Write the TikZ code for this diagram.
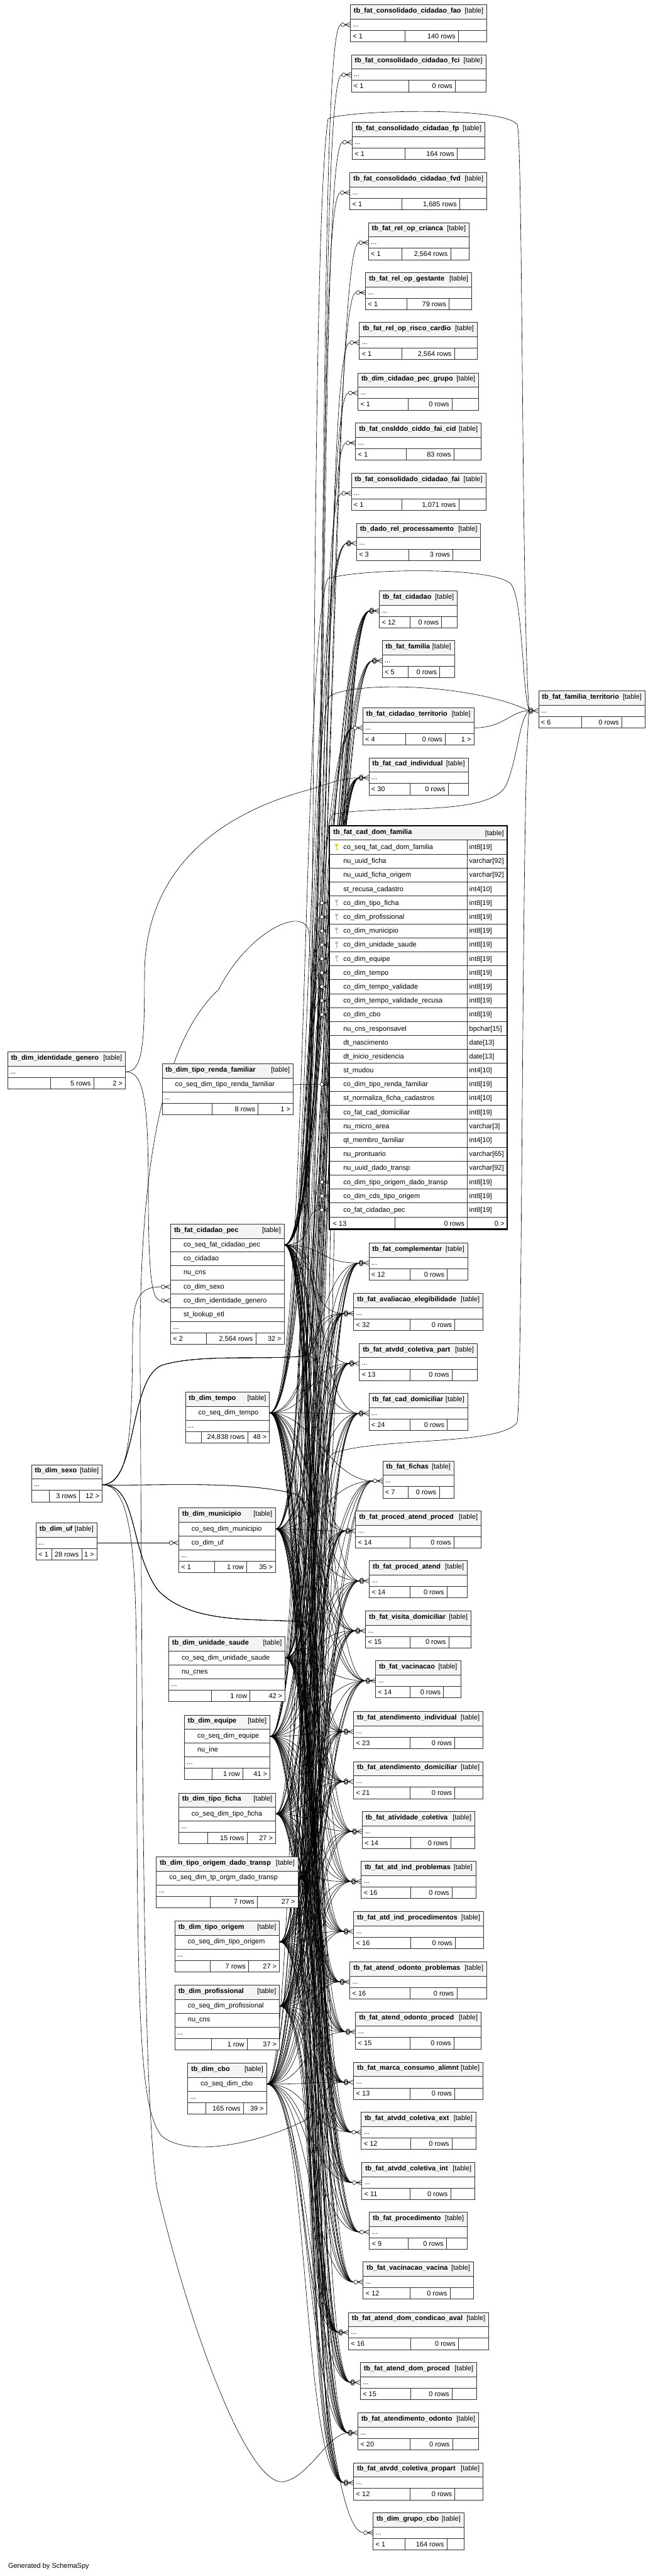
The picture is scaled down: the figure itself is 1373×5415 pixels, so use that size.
\documentclass[tikz,border=0pt]{standalone}
\usepackage{fontspec}
\setmainfont{Liberation Sans}
\definecolor{hdrbg}{HTML}{F4F4F4}
\definecolor{bd}{HTML}{303030}
\definecolor{pkc}{HTML}{D8D800}
\definecolor{fkc}{HTML}{BBBBBB}
\tikzset{
 tb/.style={draw=bd,line width=1.1pt},
 rel/.style={draw=black,line width=0.8pt},
 txt/.style={inner sep=0pt,font=\fontsize{14.5}{17}\selectfont},
 btxt/.style={inner sep=0pt,font=\fontsize{14.5}{17}\selectfont\bfseries},
}
\newcommand\sshead[5]{%
  \draw[tb,fill=hdrbg] (#3,#5) rectangle (#4,{#5+30});
  \node[btxt,anchor=base west] (#1-n) at ({#3+7},{#5+17}) {#2};
  \node[txt,anchor=base east] (#1-t) at ({#4-7},{#5+17}) {[table]};}
\newcommand\ssrow[6]{%
  \draw[tb,fill=white] (#2,#4) rectangle (#3,#5);
  \node[txt,anchor=base west] (#1) at ({#2+27},{#4+18}) {#6};}
\newcommand\ssdots[5]{%
  \draw[tb,fill=white] (#2,#4) rectangle (#3,#5);
  \node[txt,anchor=base west] (#1) at ({#2+5},{#4+16}) {...};}
\newcommand\ssfoot[9]{%
  \draw[tb,fill=white] (#2,#4) rectangle (#3,{#4+24});
  \draw[tb] (#5,#4) -- (#5,{#4+24}) (#6,#4) -- (#6,{#4+24});
  \node[txt,anchor=base west] (#1-l) at ({#2+5},{#4+17}) {#7};
  \node[txt,anchor=base east] (#1-m) at ({#6-6},{#4+17}) {#8};
  \node[txt,anchor=base east] (#1-r) at ({#3-6},{#4+17}) {#9};}
\newcommand\crowmark[2]{%
  \draw[rel] ({#1-12},{#2}) -- ({#1},{#2-5}) ({#1-12},{#2}) -- ({#1},{#2}) ({#1-12},{#2}) -- ({#1},{#2+5});
  \draw[rel,fill=white] ({#1-16},{#2}) circle[radius=4pt];}
\newcommand\crowmarkm[2]{%
  \draw[rel] ({#1-12},{#2}) -- ({#1},{#2-5}) ({#1-12},{#2}) -- ({#1},{#2}) ({#1-12},{#2}) -- ({#1},{#2+5});
  \draw[rel,fill=white] ({#1-16},{#2-2}) circle[radius=4pt];
  \draw[rel] ({#1-17},{#2}) circle[radius=4pt] ({#1-16},{#2+2}) circle[radius=4pt];}
\newcommand\keyicon[3]{%
  \fill[#3] ({#1},{#2-4}) circle[radius=3.2pt];
  \fill[#3] ({#1-1.2},{#2-2}) rectangle ({#1+1.2},{#2+7});
  \fill[#3] ({#1},{#2+3.5}) rectangle ({#1+3},{#2+5});}
\def\rtlist{fao/tb\_fat\_consolidado\_cidadao\_fao/737/1024/10/852/964/{< 1}/{140 rows}/1,
fci/tb\_fat\_consolidado\_cidadao\_fci/739/1022/115/860/958/{< 1}/{0 rows}/1,
fp/tb\_fat\_consolidado\_cidadao\_fp/741/1020/257/852/962/{< 1}/{164 rows}/1,
fvd/tb\_fat\_consolidado\_cidadao\_fvd/736/1024/363/845/967/{< 1}/{1,685 rows}/1,
cri/tb\_fat\_rel\_op\_crianca/775/987/468/845/948/{< 1}/{2,564 rows}/1,
ges/tb\_fat\_rel\_op\_gestante/769/992/573/856/945/{< 1}/{79 rows}/1,
ris/tb\_fat\_rel\_op\_risco\_cardio/756/1004/678/845/956/{< 1}/{2,564 rows}/1,
pgr/tb\_dim\_cidadao\_pec\_grupo/753/1007/784/859/951/{< 1}/{0 rows}/1,
fac/tb\_fat\_cnslddo\_ciddo\_fai\_cid/748/1012/889/854/955/{< 1}/{83 rows}/1,
fai/tb\_fat\_consolidado\_cidadao\_fai/739/1022/995/845/965/{< 1}/{1,071 rows}/1,
pro/tb\_dado\_rel\_processamento/750/1011/1100/860/953/{< 3}/{3 rows}/3,
cid/tb\_fat\_cidadao/798/962/1242/863/929/{< 12}/{0 rows}/3,
fam/tb\_fat\_familia/804/956/1347/859/925/{< 5}/{0 rows}/3,
cte/tb\_fat\_cidadao\_territorio/763/997/1488/853/937/{< 4}/{0 rows}/1,
cin/tb\_fat\_cad\_individual/776/985/1593/863/943/{< 30}/{0 rows}/3,
fte/tb\_fat\_familia\_territorio/1133/1357/1452/1224/1308/{< 6}/{0 rows}/3,
com/tb\_fat\_complementar/776/984/2613/863/941/{< 12}/{0 rows}/3,
ava/tb\_fat\_avaliacao\_elegibilidade/744/1016/2719/863/957/{< 32}/{0 rows}/3,
acp/tb\_fat\_atvdd\_coletiva\_part/756/1004/2824/863/951/{< 13}/{0 rows}/3,
cdo/tb\_fat\_cad\_domiciliar/776/984/2929/863/941/{< 24}/{0 rows}/3,
fic/tb\_fat\_fichas/805/955/3071/859/924/{< 7}/{0 rows}/1,
pap/tb\_fat\_proced\_atend\_proced/748/1012/3176/863/955/{< 14}/{0 rows}/3,
pat/tb\_fat\_proced\_atend/777/983/3281/863/940/{< 14}/{0 rows}/3,
vdo/tb\_fat\_visita\_domiciliar/769/991/3386/863/944/{< 15}/{0 rows}/3,
vac/tb\_fat\_vacinacao/790/969/3491/863/933/{< 14}/{0 rows}/3,
ain/tb\_fat\_atendimento\_individual/744/1016/3598/863/957/{< 23}/{0 rows}/3,
ado/tb\_fat\_atendimento\_domiciliar/744/1016/3703/863/957/{< 21}/{0 rows}/3,
atc/tb\_fat\_atividade\_coletiva/762/999/3808/864/949/{< 14}/{0 rows}/3,
aip/tb\_fat\_atd\_ind\_problemas/760/1001/3913/864/951/{< 16}/{0 rows}/3,
aipr/tb\_fat\_atd\_ind\_procedimentos/744/1017/4018/864/958/{< 16}/{0 rows}/3,
aop/tb\_fat\_atend\_odonto\_problemas/736/1024/4124/863/961/{< 16}/{0 rows}/3,
aopr/tb\_fat\_atend\_odonto\_proced/748/1012/4229/863/955/{< 15}/{0 rows}/3,
mca/tb\_fat\_marca\_consumo\_alimnt/744/1016/4335/863/957/{< 13}/{0 rows}/3,
ace/tb\_fat\_atvdd\_coletiva\_ext/760/1001/4440/864/951/{< 12}/{0 rows}/1,
aci/tb\_fat\_atvdd\_coletiva\_int/761/999/4546/863/948/{< 11}/{0 rows}/1,
prc/tb\_fat\_procedimento/777/983/4650/859/939/{< 9}/{0 rows}/1,
vva/tb\_fat\_vacinacao\_vacina/764/996/4755/863/947/{< 12}/{0 rows}/1,
adc/tb\_fat\_atend\_dom\_condicao\_aval/733/1028/4861/864/964/{< 16}/{0 rows}/3,
adp/tb\_fat\_atend\_dom\_proced/758/1003/4966/864/951/{< 15}/{0 rows}/3,
aod/tb\_fat\_atendimento\_odonto/753/1007/5072/863/952/{< 20}/{0 rows}/3,
acpp/tb\_fat\_atvdd\_coletiva\_propart/744/1016/5177/863/957/{< 12}/{0 rows}/3,
gcb/tb\_dim\_grupo\_cbo/785/976/5282/852/940/{< 1}/{164 rows}/1}
\def\dfrows{0/co\_seq\_fat\_cad\_dom\_familia/int8[19],
1/nu\_uuid\_ficha/varchar[92],
2/nu\_uuid\_ficha\_origem/varchar[92],
3/st\_recusa\_cadastro/int4[10],
4/co\_dim\_tipo\_ficha/int8[19],
5/co\_dim\_profissional/int8[19],
6/co\_dim\_municipio/int8[19],
7/co\_dim\_unidade\_saude/int8[19],
8/co\_dim\_equipe/int8[19],
9/co\_dim\_tempo/int8[19],
10/co\_dim\_tempo\_validade/int8[19],
11/co\_dim\_tempo\_validade\_recusa/int8[19],
12/co\_dim\_cbo/int8[19],
13/nu\_cns\_responsavel/bpchar[15],
14/dt\_nascimento/date[13],
15/dt\_inicio\_residencia/date[13],
16/st\_mudou/int4[10],
17/co\_dim\_tipo\_renda\_familiar/int8[19],
18/st\_normaliza\_ficha\_cadastros/int4[10],
19/co\_fat\_cad\_domiciliar/int8[19],
20/nu\_micro\_area/varchar[3],
21/qt\_membro\_familiar/int4[10],
22/nu\_prontuario/varchar[65],
23/nu\_uuid\_dado\_transp/varchar[92],
24/co\_dim\_tipo\_origem\_dado\_transp/int8[19],
25/co\_dim\_cds\_tipo\_origem/int8[19],
26/co\_fat\_cidadao\_pec/int8[19]}
\begin{document}
\begin{tikzpicture}[x=1pt,y=-1pt]
\useasboundingbox (0,0) rectangle (1373,5415);
\fill[white] (0,0) rectangle (1373,5415);
% ---------- anchor coordinates
\foreach \id/\nm/\xl/\xr/\tp/\xa/\xb/\lT/\mT/\nk in \rtlist {
  \coordinate (\id-i) at ({\xl-20},{\tp+42});
}
\coordinate (tem-o) at (567,2970);
\coordinate (sex-o) at (215,3121);
\coordinate (uf-o) at (204,3243);
\coordinate (mun-o) at (580,3214);
\coordinate (mun-u) at (356,3243);
\coordinate (uns-o) at (600,3485);
\coordinate (eqp-o) at (568,3650);
\coordinate (tfi-o) at (580,3813);
\coordinate (tod-o) at (627,3947);
\coordinate (tor-o) at (588,4082);
\coordinate (prf-o) at (588,4217);
\coordinate (cbo-o) at (561,4381);
\coordinate (cpe-o) at (598,2617);
\coordinate (cpe-sx) at (339,2705);
\coordinate (cpe-ig) at (339,2734);
\coordinate (trf-o) at (617,2280);
\coordinate (ige-o) at (264,2253);
\coordinate (cte-o) at (997,1530);
\foreach \r in {4,5,6,7,8,9,10,11,12,17,24,25,26}
  \coordinate (df\r) at (673,{1766+29.333*(\r+0.5)});
% ---------- connectors
\foreach \tg in {fao,fci,fp,fvd,cri,ges,ris,pgr,fac,fai}
  \draw[rel] (cpe-o) .. controls +(110,0) and +(-60,0) .. (\tg-i);
\foreach \tg in {cin,com,ava,acp,cdo,pap,pat,vdo,vac,ain,ado,atc,aip,aipr,aop,aopr,mca,ace,aci,vva,adc,adp,aod,acpp}
  \foreach \sr in {tem,mun,uns,eqp,tfi,tod,tor,prf,cbo,cpe}
    \draw[rel] (\sr-o) .. controls +(90,0) and +(-90,0) .. (\tg-i);
\foreach \sr in {tem,mun,uns,eqp,tfi,tod,tor,prf,cbo,cpe}
  \draw[rel] (\sr-o) .. controls +(90,0) and +(-90,0) .. (cid-i);
\foreach \sr in {tem,mun,uns,eqp,cpe}
  \draw[rel] (\sr-o) .. controls +(90,0) and +(-90,0) .. (fam-i);
\foreach \sr in {tem,mun,uns}
  \draw[rel] (\sr-o) .. controls +(90,0) and +(-90,0) .. (pro-i);
\foreach \sr in {tem,mun,uns,eqp}
  \draw[rel] (\sr-o) .. controls +(90,0) and +(-90,0) .. (cte-i);
\foreach \sr in {tem,mun,uns,eqp,tfi,tor,prf}
  \draw[rel] (\sr-o) .. controls +(90,0) and +(-90,0) .. (fic-i);
\foreach \sr in {tem,mun,uns,eqp,tfi,tod,tor,prf,cbo}
  \draw[rel] (\sr-o) .. controls +(90,0) and +(-90,0) .. (prc-i);
\draw[rel] (cbo-o) .. controls +(90,0) and +(-90,0) .. (gcb-i);
% tb_dim_sexo routes
\foreach \tg in {cid,cin,ava,cdo}
  \draw[rel] (sex-o) .. controls (290,3121) and (270,2900) .. (340,2870) .. controls (420,2845) and (560,2860) .. (640,2850) .. controls (690,2845) and +(-90,0) .. (\tg-i);
\foreach \tg in {vdo,vac}
  \draw[rel] (sex-o) .. controls (300,3125) and (500,3110) .. (620,3140) .. controls (670,3150) and +(-90,0) .. (\tg-i);
\foreach \tg in {ain,ado,aop,adc}
  \draw[rel] (sex-o) .. controls (290,3121) and (270,3250) .. (330,3340) .. controls (400,3420) and (560,3400) .. (640,3410) .. controls (690,3415) and +(-90,0) .. (\tg-i);
\draw[rel] (sex-o) .. controls (300,3121) and (285,3400) .. (288,3800) .. controls (290,4300) and (300,4440) .. (340,4490) .. controls (400,4540) and (560,4500) .. (643,4456) .. controls (690,4430) and +(-60,0) .. (mca-i);
\draw[rel] (sex-o) .. controls +(60,0) and (278,3000) .. (279,2800) .. controls (280,2720) and (300,2705) .. (cpe-sx);
% tb_dim_identidade_genero routes
\draw[rel] (ige-o) .. controls (300,2253) and (312,2300) .. (312,2500) .. controls (312,2690) and (320,2734) .. (cpe-ig);
\draw[rel] (ige-o) .. controls (300,2253) and (304,2200) .. (304,2050) .. controls (304,1800) and (500,1700) .. (650,1660) .. controls (700,1645) and (720,1635) .. (cin-i);
% long left route to tb_fat_atendimento_odonto
\draw[rel] (cpe-o) .. controls +(60,0) and (660,2100) .. (650,1960) .. controls (640,1900) and (520,1960) .. (460,2080) .. controls (330,2200) and (290,2500) .. (295,2900) .. controls (300,3700) and (300,4400) .. (330,4600) .. controls (400,4900) and (520,5220) .. (594,5217) .. controls (650,5210) and (690,5114) .. (aod-i);
\draw[rel] (uf-o) -- (mun-u);
\foreach \r/\sr in {4/tfi,5/prf,6/mun,7/uns,8/eqp,9/tem,10/tem,11/tem,12/cbo,17/trf,24/tod,25/tor,26/cpe}
  \draw[rel] (\sr-o) .. controls +(70,0) and +(-40,0) .. (df\r);
% loops to tb_fat_familia_territorio
\draw[rel] (uns-o) .. controls +(80,0) and (640,600) .. (690,250) .. controls (720,232) and (1060,222) .. (1088,262) .. controls (1100,290) and (1097,1300) .. (fte-i);
\draw[rel] (tem-o) .. controls +(80,0) and (635,1320) .. (690,1216) .. controls (760,1195) and (1040,1190) .. (1075,1228) .. controls (1100,1260) and (1098,1450) .. (fte-i);
\draw[rel] (mun-o) .. controls +(80,0) and (640,1520) .. (695,1462) .. controls (760,1430) and (1000,1440) .. (fte-i);
\draw[rel] (cte-o) .. controls (1060,1530) and (1075,1494) .. (fte-i);
\draw[rel] (eqp-o) .. controls +(80,0) and (640,1780) .. (700,1712) .. controls (800,1690) and (1030,1720) .. (1065,1650) .. controls (1090,1590) and (1092,1510) .. (fte-i);
\draw[rel] (tfi-o) .. controls +(80,0) and (640,3110) .. (700,3055) .. controls (800,3020) and (1050,3040) .. (1088,2990) .. controls (1100,2900) and (1097,1650) .. (fte-i);
% ---------- right tables
\foreach \id/\nm/\xl/\xr/\tp/\xa/\xb/\lT/\mT/\nk in \rtlist {
  \draw[tb,fill=hdrbg] (\xl,\tp) rectangle (\xr,{\tp+30});
  \draw[tb,fill=white] (\xl,{\tp+30}) rectangle (\xr,{\tp+54});
  \draw[tb,fill=white] (\xl,{\tp+54}) rectangle (\xr,{\tp+78});
  \draw[tb] (\xa,{\tp+54}) -- (\xa,{\tp+78}) (\xb,{\tp+54}) -- (\xb,{\tp+78});
  \node[btxt,anchor=base west] (\id-n) at ({\xl+7},{\tp+17}) {\nm};
  \node[txt,anchor=base east] (\id-t) at ({\xr-7},{\tp+17}) {[table]};
  \node[txt,anchor=base west] (\id-d) at ({\xl+5},{\tp+46}) {...};
  \node[txt,anchor=base west] (\id-l) at ({\xl+5},{\tp+71}) {\lT};
  \node[txt,anchor=base east] (\id-m) at ({\xb-6},{\tp+71}) {\mT};
  \pgfmathsetmacro\yy{\tp+42}
  \ifnum\nk=1 \crowmark{\xl}{\yy}\else\crowmarkm{\xl}{\yy}\fi
}
\node[txt,anchor=base east] (cte-r) at (991,1559) {1 >};
% ---------- tb_fat_cad_dom_familia
\draw[tb,fill=hdrbg] (693,1736) rectangle (1067,1766);
\node[btxt,anchor=base west] (df-n) at (701,1754) {tb\_fat\_cad\_dom\_familia};
\node[txt,anchor=base east] (df-t) at (1060,1756) {[table]};
\foreach \i/\cn/\ct in \dfrows {
  \pgfmathsetmacro\ya{1766+29.333*\i}
  \pgfmathsetmacro\yb{\ya+29.333}
  \draw[tb,fill=white] (693,\ya) rectangle (983,\yb);
  \draw[tb,fill=white] (983,\ya) rectangle (1067,\yb);
  \node[txt,anchor=base west] (df-c\i) at (722,{\ya+19.5}) {\cn};
  \node[txt,anchor=base west] (df-y\i) at (987,{\ya+19.5}) {\ct};
}
\draw[tb,fill=white] (693,2558) rectangle (1067,2584);
\draw[tb] (831,2558) -- (831,2584) (983,2558) -- (983,2584);
\node[txt,anchor=base west] (df-fl) at (700,2577) {< 13};
\node[txt,anchor=base east] (df-fm) at (977,2577) {0 rows};
\node[txt,anchor=base east] (df-fr) at (1061,2577) {0 >};
\draw[line width=3pt,black] (693,1736) rectangle (1067,2584);
\keyicon{708}{1780.7}{pkc}
\foreach \r in {4,5,6,7,8} {\pgfmathsetmacro\yy{1766+29.333*(\r+0.5)}\keyicon{708}{\yy}{fkc}}
\foreach \r in {4,5,6,7,8,9,10,11,12,17,24,25,26} {\pgfmathsetmacro\yy{1766+29.333*(\r+0.5)}\crowmark{693}{\yy}}
% ---------- left tables
\sshead{ige}{tb\_dim\_identidade\_genero}{16}{264}{2211}
\ssdots{ige-d}{16}{264}{2241}{2265}
\ssfoot{ige-f}{16}{264}{2265}{106}{197}{}{5 rows}{2 >}
\sshead{trf}{tb\_dim\_tipo\_renda\_familiar}{341}{617}{2236}
\ssrow{trf-c}{341}{617}{2266}{2295}{co\_seq\_dim\_tipo\_renda\_familiar}
\ssdots{trf-d}{341}{617}{2295}{2319}
\ssfoot{trf-f}{341}{617}{2319}{446}{543}{}{8 rows}{1 >}
\sshead{cpe}{tb\_fat\_cidadao\_pec}{359}{598}{2573}
\ssrow{cpe-c1}{359}{598}{2603}{2632}{co\_seq\_fat\_cidadao\_pec}
\ssrow{cpe-c2}{359}{598}{2632}{2661}{co\_cidadao}
\ssrow{cpe-c3}{359}{598}{2661}{2691}{nu\_cns}
\ssrow{cpe-c4}{359}{598}{2691}{2720}{co\_dim\_sexo}
\ssrow{cpe-c5}{359}{598}{2720}{2749}{co\_dim\_identidade\_genero}
\ssrow{cpe-c6}{359}{598}{2749}{2778}{st\_lookup\_etl}
\ssdots{cpe-d}{359}{598}{2778}{2802}
\ssfoot{cpe-f}{359}{598}{2802}{434}{538}{< 2}{2,564 rows}{32 >}
\crowmark{359}{2705}
\crowmark{359}{2734}
\sshead{tem}{tb\_dim\_tempo}{390}{567}{2926}
\ssrow{tem-c}{390}{567}{2956}{2985}{co\_seq\_dim\_tempo}
\ssdots{tem-d}{390}{567}{2985}{3009}
\ssfoot{tem-f}{390}{567}{3009}{423}{521}{}{24,838 rows}{48 >}
\sshead{sex}{tb\_dim\_sexo}{66}{215}{3079}
\ssdots{sex-d}{66}{215}{3109}{3133}
\ssfoot{sex-f}{66}{215}{3133}{104}{167}{}{3 rows}{12 >}
\sshead{uf}{tb\_dim\_uf}{76}{204}{3201}
\ssdots{uf-d}{76}{204}{3231}{3255}
\ssfoot{uf-f}{76}{204}{3255}{109}{172}{< 1}{28 rows}{1 >}
\sshead{mun}{tb\_dim\_municipio}{376}{580}{3170}
\ssrow{mun-c1}{376}{580}{3200}{3229}{co\_seq\_dim\_municipio}
\ssrow{mun-c2}{376}{580}{3229}{3258}{co\_dim\_uf}
\ssdots{mun-d}{376}{580}{3258}{3282}
\ssfoot{mun-f}{376}{580}{3282}{451}{519}{< 1}{1 row}{35 >}
\crowmark{376}{3243}
\sshead{uns}{tb\_dim\_unidade\_saude}{355}{600}{3441}
\ssrow{uns-c1}{355}{600}{3471}{3500}{co\_seq\_dim\_unidade\_saude}
\ssrow{uns-c2}{355}{600}{3500}{3529}{nu\_cnes}
\ssdots{uns-d}{355}{600}{3529}{3553}
\ssfoot{uns-f}{355}{600}{3553}{445}{526}{}{1 row}{42 >}
\sshead{eqp}{tb\_dim\_equipe}{388}{568}{3605}
\ssrow{eqp-c1}{388}{568}{3635}{3664}{co\_seq\_dim\_equipe}
\ssrow{eqp-c2}{388}{568}{3664}{3693}{nu\_ine}
\ssdots{eqp-d}{388}{568}{3693}{3717}
\ssfoot{eqp-f}{388}{568}{3717}{446}{511}{}{1 row}{41 >}
\sshead{tfi}{tb\_dim\_tipo\_ficha}{376}{580}{3769}
\ssrow{tfi-c}{376}{580}{3799}{3828}{co\_seq\_dim\_tipo\_ficha}
\ssdots{tfi-d}{376}{580}{3828}{3852}
\ssfoot{tfi-f}{376}{580}{3852}{437}{520}{}{15 rows}{27 >}
\sshead{tod}{tb\_dim\_tipo\_origem\_dado\_transp}{329}{627}{3903}
\ssrow{tod-c}{329}{627}{3933}{3962}{co\_seq\_dim\_tp\_orgm\_dado\_transp}
\ssdots{tod-d}{329}{627}{3962}{3986}
\ssfoot{tod-f}{329}{627}{3986}{442}{541}{}{7 rows}{27 >}
\sshead{tor}{tb\_dim\_tipo\_origem}{368}{588}{4038}
\ssrow{tor-c}{368}{588}{4068}{4097}{co\_seq\_dim\_tipo\_origem}
\ssdots{tor-d}{368}{588}{4097}{4121}
\ssfoot{tor-f}{368}{588}{4121}{442}{523}{}{7 rows}{27 >}
\sshead{prf}{tb\_dim\_profissional}{368}{588}{4173}
\ssrow{prf-c1}{368}{588}{4203}{4232}{co\_seq\_dim\_profissional}
\ssrow{prf-c2}{368}{588}{4232}{4261}{nu\_cns}
\ssdots{prf-d}{368}{588}{4261}{4285}
\ssfoot{prf-f}{368}{588}{4285}{445}{520}{}{1 row}{37 >}
\sshead{cbo}{tb\_dim\_cbo}{395}{561}{4337}
\ssrow{cbo-c}{395}{561}{4367}{4396}{co\_seq\_dim\_cbo}
\ssdots{cbo-d}{395}{561}{4396}{4420}
\ssfoot{cbo-f}{395}{561}{4420}{433}{512}{}{165 rows}{39 >}
\node[txt,anchor=base west] (gen) at (17,5399) {Generated by SchemaSpy};
\end{tikzpicture}
\end{document}
